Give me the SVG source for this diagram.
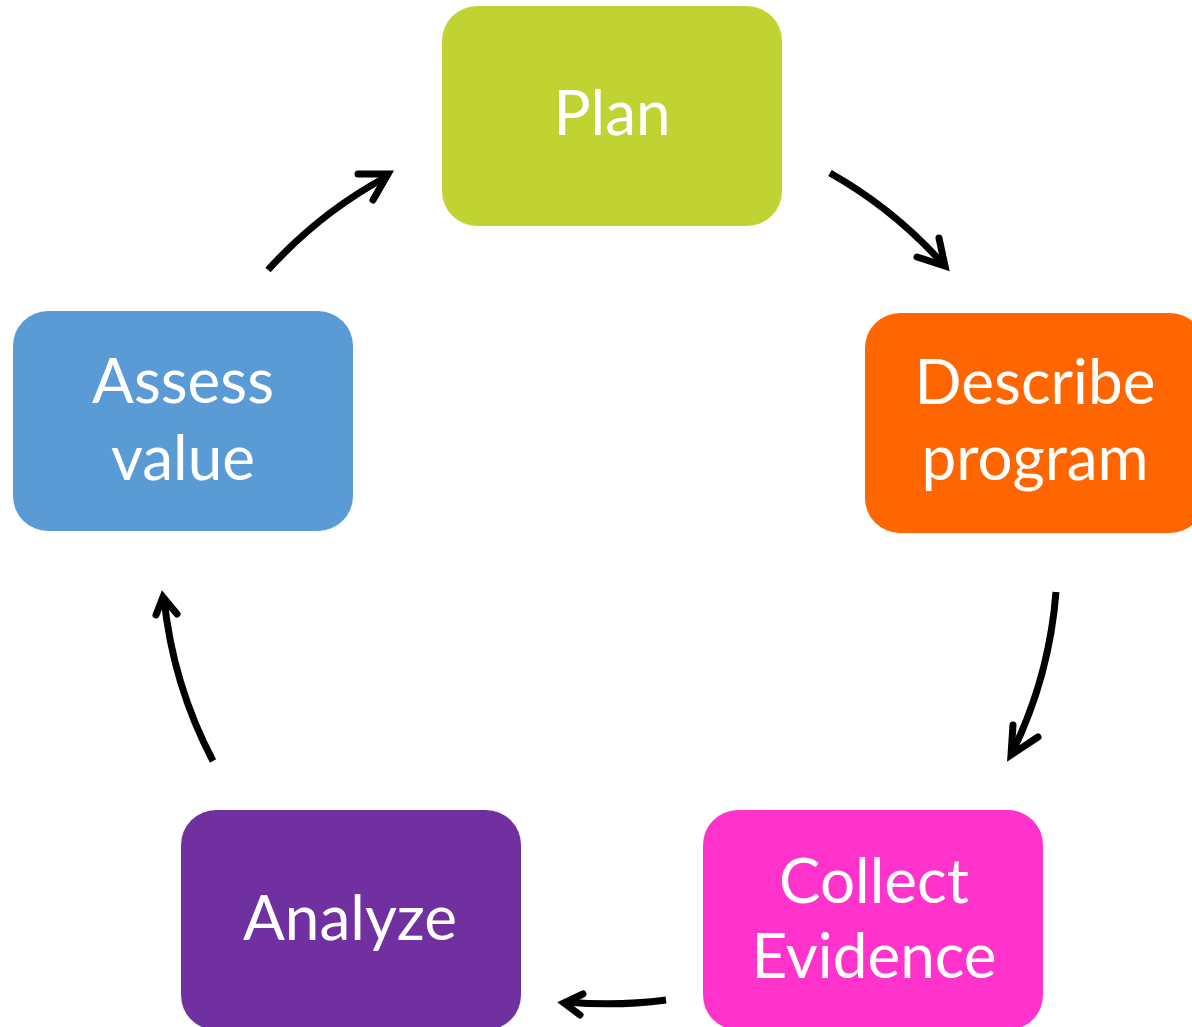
<svg xmlns="http://www.w3.org/2000/svg" width="1192" height="1027" viewBox="0 0 1192 1027">
<style>
.box{stroke:none}
.lbl{font-family:Lato,"Open Sans",sans-serif;font-size:62px;fill:#FFFFFF;text-anchor:middle}
.shaft{fill:none;stroke:#000;stroke-width:7;stroke-linecap:butt}
.head{fill:none;stroke:#000;stroke-width:7;stroke-linecap:round;stroke-linejoin:miter;stroke-miterlimit:10}
</style>
<rect width="1192" height="1027" fill="#FFFFFF"/>
<g id="node-plan">
<rect class="box" x="442" y="6" width="340" height="220" rx="35" fill="#C1D332"/>
<text class="lbl" x="612" y="135">Plan</text>
</g>
<g id="node-describe">
<rect class="box" x="865" y="313" width="340" height="220" rx="35" fill="#FF6600"/>
<text class="lbl" x="1035" y="404">Describe</text>
<text class="lbl" x="1035" y="480">program</text>
</g>
<g id="node-collect">
<rect class="box" x="703" y="810" width="340" height="220" rx="35" fill="#FF33CC"/>
<text class="lbl" x="874" y="903">Collect</text>
<text class="lbl" x="874" y="978">Evidence</text>
</g>
<g id="node-analyze">
<rect class="box" x="181" y="810" width="340" height="220" rx="35" fill="#7030A0"/>
<text class="lbl" x="350" y="940">Analyze</text>
</g>
<g id="node-assess">
<rect class="box" x="13" y="311" width="340" height="220" rx="35" fill="#5B9BD5"/>
<text class="lbl" x="183" y="403">Assess</text>
<text class="lbl" x="183" y="480">value</text>
</g>
<g id="connectors">
<path class="shaft" d="M 830 173 A 445 445 0 0 1 944 265"/>
<path class="head" d="M 917 257 L 945 266 L 939 238"/>
<path class="shaft" d="M 1056 592 A 445 445 0 0 1 1012 753"/>
<path class="head" d="M 1013 725 L 1011 755 L 1038 737"/>
<path class="shaft" d="M 666 1000 A 445 445 0 0 1 567 1002"/>
<path class="head" d="M 583 994 L 564 1003 L 580 1015"/>
<path class="shaft" d="M 213 761 A 445 445 0 0 1 164 598"/>
<path class="head" d="M 156 615 L 163 597 L 177 614"/>
<path class="shaft" d="M 268 270 A 445 445 0 0 1 386 177"/>
<path class="head" d="M 358 174 L 388 174 L 373 200"/>
</g>
</svg>
